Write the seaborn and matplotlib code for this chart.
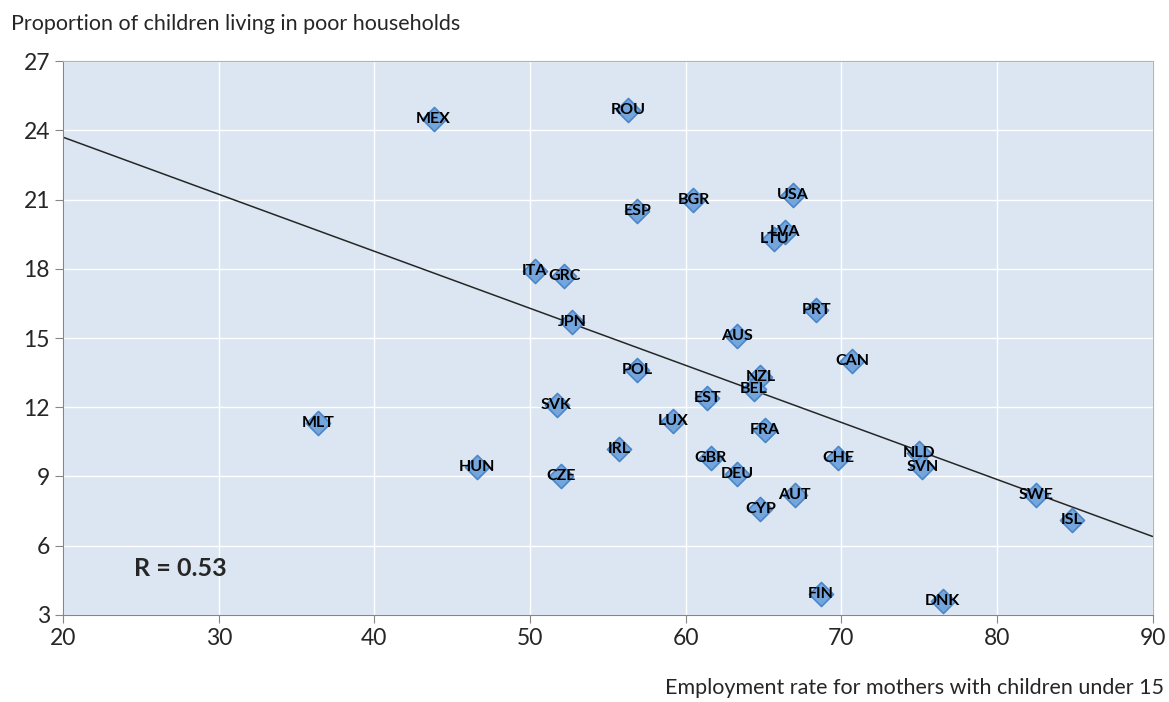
import numpy as np
import pandas as pd
import seaborn as sns
import matplotlib.pyplot as plt

countries = ['MEX', 'ROU', 'BGR', 'ESP', 'USA', 'LTU', 'LVA', 'ITA', 'GRC', 'JPN',
             'AUS', 'PRT', 'CAN', 'POL', 'NZL', 'BEL', 'EST', 'SVK', 'LUX', 'MLT',
             'FRA', 'IRL', 'GBR', 'CHE', 'NLD', 'SVN', 'HUN', 'DEU', 'CZE', 'AUT',
             'CYP', 'SWE', 'ISL', 'FIN', 'DNK']
employment = [43.8, 56.3, 60.5, 56.9, 66.9, 65.7, 66.4, 50.3, 52.2, 52.7,
              63.3, 68.4, 70.7, 56.9, 64.8, 64.4, 61.4, 51.7, 59.2, 36.4,
              65.1, 55.7, 61.6, 69.8, 75.0, 75.2, 46.6, 63.3, 52.0, 67.0,
              64.8, 82.5, 84.8, 68.7, 76.5]
poverty = [24.5, 24.9, 21.0, 20.5, 21.2, 19.3, 19.6, 17.9, 17.7, 15.7,
           15.1, 16.2, 14.0, 13.6, 13.3, 12.8, 12.4, 12.1, 11.4, 11.3,
           11.0, 10.2, 9.8, 9.8, 10.0, 9.4, 9.4, 9.1, 9.0, 8.2,
           7.6, 8.2, 7.1, 3.9, 3.6]

# linear trend as shown in the chart (ends at x = 20 and x = 90)
trend_x = [20, 90]
trend_y = [23.7, 6.4]

df = pd.DataFrame({'country': countries, 'employment': employment, 'poverty': poverty})

sns.set_style('whitegrid', {'axes.facecolor': '#dce6f2', 'grid.color': 'white'})
plt.rcParams['font.family'] = ['Lato', 'DejaVu Sans']

fig = plt.figure(figsize=(11.69, 7.02), dpi=100)
ax = fig.add_axes([0.054, 0.124, 0.932, 0.789])

sns.lineplot(x=trend_x, y=trend_y, ax=ax, color='#262626', lw=1.1)
sns.scatterplot(data=df, x='employment', y='poverty', ax=ax, marker='D', s=150,
                color='#74a5dc', edgecolor='#4a86c8', linewidth=1.2, zorder=3)

for c, xv, yv in zip(countries, employment, poverty):
    ax.text(xv, yv, c, ha='center', va='center', fontsize=11.5,
            fontweight='bold', color='black', zorder=4)

ax.text(27.5, 5.0, 'R = 0.53', fontsize=18, fontweight='bold', ha='center', va='center')

ax.set_xlim(20, 90)
ax.set_ylim(3, 27)
ax.set_xticks(range(20, 91, 10))
ax.set_yticks(range(3, 28, 3))
ax.grid(True, color='white', lw=1)
for s in ['top', 'right']:
    ax.spines[s].set_color('#b4b4b4')
for s in ['left', 'bottom']:
    ax.spines[s].set_color('#868686')
ax.tick_params(axis='both', labelsize=16.5, length=6, color='#868686', direction='out',
               left=True, bottom=True)
ax.set_xlabel('')
ax.set_ylabel('')

fig.text(0.009, 0.966, 'Proportion of children living in poor households',
         fontsize=15.5, ha='left', va='center')
fig.text(0.996, 0.02, 'Employment rate for mothers with children under 15',
         fontsize=15.5, ha='right', va='center')

fig.savefig('out.png', dpi=100)
